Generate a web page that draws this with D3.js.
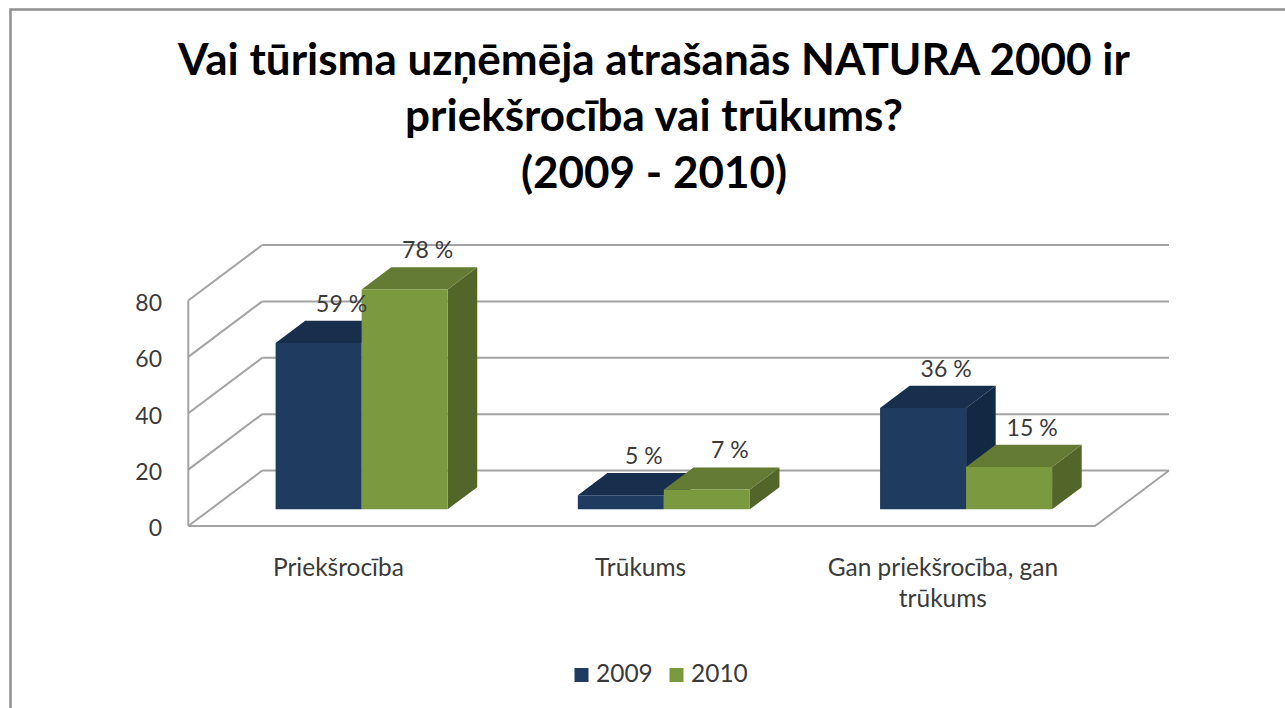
<!DOCTYPE html>
<html>
<head>
<meta charset="utf-8">
<script src="https://cdn.jsdelivr.net/npm/d3@7"></script>
<style>
  html, body { margin: 0; padding: 0; background: #fff; }
  svg { display: block; }
</style>
</head>
<body>
<svg id="chart" width="1285" height="708"></svg>
<script>
// ---- data ----
const titleLines = ["Vai tūrisma uzņēmēja atrašanās NATURA 2000 ir", "priekšrocība vai trūkums?", "(2009 - 2010)"];
const categories = ["Priekšrocība", "Trūkums", "Gan priekšrocība, gan trūkums"];
const categoryLines = [["Priekšrocība"], ["Trūkums"], ["Gan priekšrocība, gan", "trūkums"]];
const seriesNames = ["2009", "2010"];
const values2009 = [59, 5, 36];
const values2010 = [78, 7, 15];
const yTicks = [0, 20, 40, 60, 80];

// ---- styles / layout ----
const colors = {
  "2009": { front: "#1f3b60", top: "#172e4d", side: "#132842" },
  "2010": { front: "#7b9a40", top: "#637b33", side: "#52662a" }
};
const FONT = "Lato, 'Open Sans', 'Noto Sans', sans-serif";
const TXT = "#3a3a3a";
const GRID = "#a3a3a3";

const svg = d3.select("#chart");

// border
svg.append("path")
  .attr("d", "M10.5,708 L10.5,9.5 L1290,9.5")
  .attr("fill", "none").attr("stroke", "#8f8f8f").attr("stroke-width", 2.5);

// 3D projection parameters
const DX = 74, DY = 55.5;
const x0 = d3.scaleBand().domain(categories).range([188.3, 1095]).padding(0);
const x1 = d3.scaleBand().domain(seriesNames).range([0, x0.bandwidth()]).paddingInner(0).paddingOuter(0.757);
const y = d3.scaleLinear().domain([0, 80]).range([526, 300.5]);
const P = (x, v, z) => [x + z * DX, y(v) - z * DY];
const Z0 = 0.30, Z1 = 0.70;

const grid = svg.append("g").attr("fill", "none").attr("stroke", GRID).attr("stroke-width", 2);
const xL = x0.range()[0], xR = x0.range()[1];
// back wall gridlines
yTicks.forEach(t => {
  const a = P(xL, t, 1), b = P(xR, t, 1);
  grid.append("line").attr("x1", a[0]).attr("y1", a[1]).attr("x2", b[0]).attr("y2", b[1]);
  // left wall diagonals
  const c = P(xL, t, 0);
  grid.append("line").attr("x1", c[0]).attr("y1", c[1]).attr("x2", a[0]).attr("y2", a[1]);
});
// left wall front edge
{
  const a = P(xL, 0, 0), b = P(xL, 80, 0);
  grid.append("line").attr("x1", a[0]).attr("y1", a[1]).attr("x2", b[0]).attr("y2", b[1]);
}
// floor front edge and right edge
{
  const a = P(xL, 0, 0), b = P(xR, 0, 0), c = P(xR, 0, 1);
  grid.append("path").attr("d", `M${a}L${b}L${c}`);
}

// y axis labels
svg.append("g").selectAll("text").data(yTicks).join("text")
  .attr("x", 162).attr("y", d => y(d) + 2).attr("dy", "0.36em")
  .attr("text-anchor", "end").attr("font-family", FONT).attr("font-size", 23)
  .attr("fill", TXT).text(d => d);

// bars
const rows = [];
categories.forEach((c, i) => {
  rows.push({ cat: c, s: "2009", v: values2009[i] });
  rows.push({ cat: c, s: "2010", v: values2010[i] });
});
const bars = svg.append("g");
const poly = pts => "M" + pts.map(p => p.join(",")).join("L") + "Z";
rows.forEach(r => {
  const xa = x0(r.cat) + x1(r.s), xb = xa + x1.bandwidth();
  const col = colors[r.s];
  // side
  bars.append("path").attr("fill", col.side)
    .attr("d", poly([P(xb, 0, Z0), P(xb, 0, Z1), P(xb, r.v, Z1), P(xb, r.v, Z0)]));
  // top
  bars.append("path").attr("fill", col.top)
    .attr("d", poly([P(xa, r.v, Z0), P(xa, r.v, Z1), P(xb, r.v, Z1), P(xb, r.v, Z0)]));
  // front
  bars.append("path").attr("fill", col.front)
    .attr("d", poly([P(xa, 0, Z0), P(xb, 0, Z0), P(xb, r.v, Z0), P(xa, r.v, Z0)]));
});

// value labels
svg.append("g").selectAll("text").data(rows).join("text")
  .attr("x", d => P(x0(d.cat) + x1(d.s) + x1.bandwidth() / 2, d.v, Z0)[0] + 23)
  .attr("y", d => P(0, d.v, Z1)[1] - 9)
  .attr("text-anchor", "middle").attr("font-family", FONT).attr("font-size", 23)
  .attr("fill", TXT).text(d => d.v + " %");

// title
const tg = svg.append("g");
const tBase = [75, 131, 188];
const tNodes = titleLines.map((t, i) => tg.append("text")
  .attr("x", 654).attr("y", tBase[i]).attr("text-anchor", "middle")
  .attr("font-family", FONT).attr("font-weight", "bold").attr("font-size", 44)
  .attr("fill", "#000").text(t));
{
  const w = tNodes[0].node().getComputedTextLength();
  const fs = 44 * 952 / w;
  tNodes.forEach(n => n.attr("font-size", fs));
}

// category labels
const cg = svg.append("g");
const catNodes = [];
categories.forEach((c, i) => {
  categoryLines[i].forEach((line, j) => {
    catNodes.push(cg.append("text")
      .attr("x", x0(c) + x0.bandwidth() / 2 - 1).attr("y", 576 + j * 31)
      .attr("text-anchor", "middle").attr("font-family", FONT).attr("font-size", 22)
      .attr("fill", TXT).text(line));
  });
});
let catFs = 22;
{
  const w = catNodes[0].node().getComputedTextLength();
  catFs = 22 * 131 / w;
  catNodes.forEach(n => n.attr("font-size", catFs));
}

// legend
const lg = svg.append("g");
const legX = [574.5, 669.5];
seriesNames.forEach((s, i) => {
  lg.append("rect").attr("x", legX[i]).attr("y", 668).attr("width", 14).attr("height", 14)
    .attr("fill", colors[s].front);
  lg.append("text").attr("x", legX[i] + 21.5).attr("y", 682)
    .attr("font-family", FONT).attr("font-size", catFs).attr("fill", TXT).text(s);
});
</script>
</body>
</html>
